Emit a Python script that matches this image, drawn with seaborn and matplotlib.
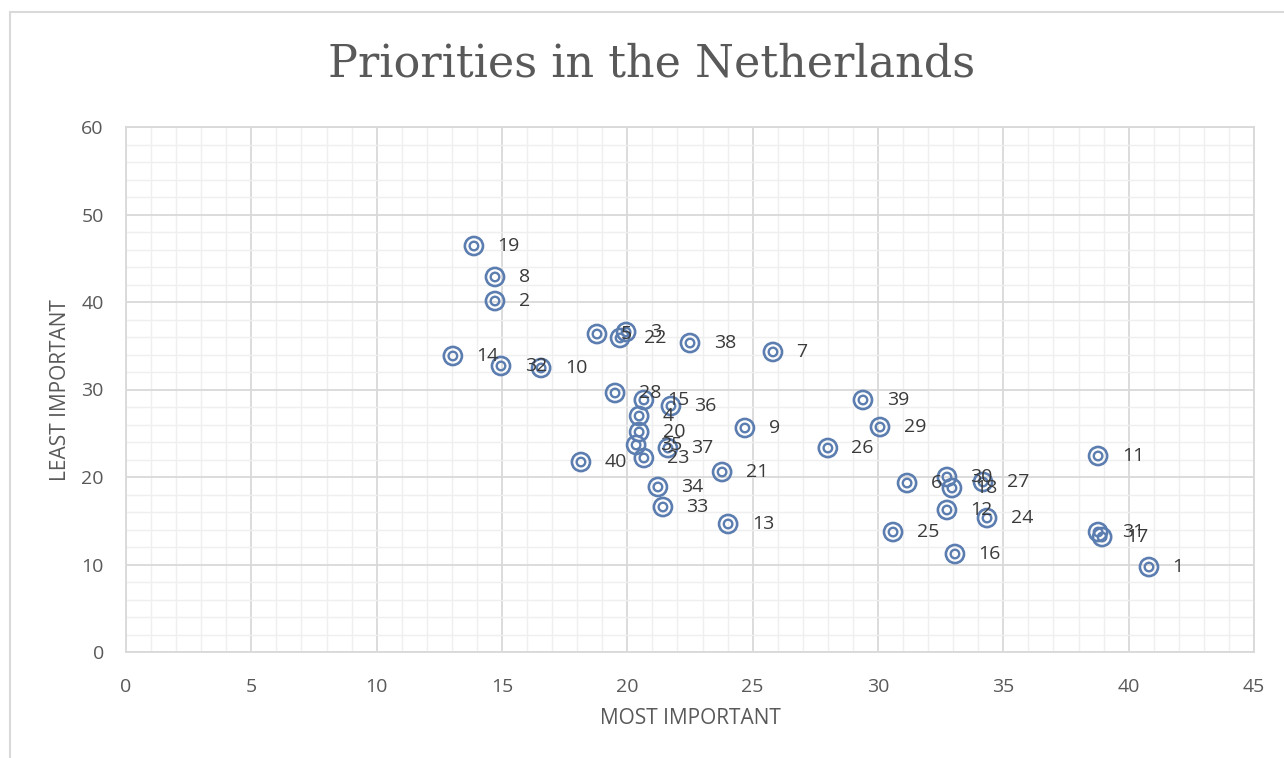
import matplotlib
matplotlib.use("Agg")
import matplotlib.pyplot as plt
from matplotlib.patches import Rectangle
from matplotlib.ticker import MultipleLocator
import seaborn as sns
import pandas as pd

# Priority items: id, share ranked "most important", share ranked "least important"
item_ids = list(range(1, 41))
most_important = [
    40.81, 14.72, 19.95, 20.47, 18.79, 31.16, 25.81, 14.72, 24.69, 16.56,
    38.78, 32.75, 24.02, 13.04, 20.66, 33.07, 38.94, 32.95, 13.88, 20.47,
    23.78, 19.71, 20.66, 34.35, 30.60, 28.00, 34.19, 19.51, 30.08, 32.75,
    38.78, 14.96, 21.42, 21.22, 20.35, 21.74, 21.62, 22.50, 29.40, 18.15,
]
least_important = [
    9.71, 40.11, 36.57, 26.97, 36.34, 19.31, 34.29, 42.86, 25.60, 32.46,
    22.40, 16.23, 14.63, 33.83, 28.80, 11.20, 13.14, 18.74, 46.40, 25.14,
    20.57, 35.89, 22.17, 15.31, 13.71, 23.31, 19.43, 29.60, 25.71, 20.00,
    13.71, 32.69, 16.57, 18.86, 23.66, 28.11, 23.31, 35.31, 28.80, 21.71,
]

title = "Priorities in the Netherlands"
x_label = "MOST IMPORTANT"
y_label = "LEAST IMPORTANT"

df = pd.DataFrame({"id": item_ids, "most": most_important, "least": least_important})

sns.set_theme(style="white")
plt.rcParams["font.family"] = ["Open Sans", "DejaVu Sans"]

TEXT = "#595959"
LABEL = "#3A3A3A"
MARK = "#5B7DB0"
MAJOR = "#D9D9D9"
MINOR = "#EFEFEF"

fig = plt.figure(figsize=(12.84, 7.58), dpi=100)
ax = fig.add_axes([126 / 1284, 1 - 652 / 758, (1254 - 126) / 1284, (652 - 127) / 758])

# Double-ring markers: an outer ring and a smaller inner ring
sns.scatterplot(data=df, x="most", y="least", ax=ax, s=170, marker="o",
                color=MARK, linewidth=1.9, zorder=3, legend=False)
sns.scatterplot(data=df, x="most", y="least", ax=ax, s=38, marker="o",
                color=MARK, linewidth=1.7, zorder=3, legend=False)
for coll in ax.collections:
    coll.set_facecolor("none")
    coll.set_edgecolor(MARK)

for i, xv, yv in zip(item_ids, most_important, least_important):
    ax.annotate(str(i), (xv, yv), xytext=(17, 0), textcoords="offset points",
                ha="left", va="center", fontsize=14, color=LABEL, zorder=4)

ax.set_xlim(0, 45)
ax.set_ylim(0, 60)
ax.xaxis.set_major_locator(MultipleLocator(5))
ax.xaxis.set_minor_locator(MultipleLocator(1))
ax.yaxis.set_major_locator(MultipleLocator(10))
ax.yaxis.set_minor_locator(MultipleLocator(2))
ax.grid(which="major", color=MAJOR, linewidth=1.3, zorder=0)
ax.grid(which="minor", color=MINOR, linewidth=1.0, zorder=0)
ax.set_axisbelow(True)
ax.tick_params(which="both", length=0, labelsize=14, labelcolor=TEXT)
ax.tick_params(axis="x", pad=19)
ax.tick_params(axis="y", pad=16)
for sp in ax.spines.values():
    sp.set_color(MAJOR)
    sp.set_linewidth(1.3)
ax.set_xlabel("")
ax.set_ylabel("")

fig.text(690 / 1284, 1 - 719 / 758, x_label, ha="center", va="center",
         fontsize=15, color=TEXT)
fig.text(60 / 1284, 1 - 390 / 758, y_label, ha="center", va="center",
         rotation=90, fontsize=15, color=TEXT)
fig.text(652 / 1284, 1 - 64 / 758, title, ha="center", va="center",
         fontsize=32, color=TEXT, family=["DejaVu Serif"])

# Chart-area frame
fig.patches.append(Rectangle((10 / 1284, -0.1), 1.2, 1 - 12 / 758 + 0.1,
                             transform=fig.transFigure, fill=False,
                             edgecolor=MAJOR, linewidth=1.5))

fig.savefig("out.png", dpi=100)
